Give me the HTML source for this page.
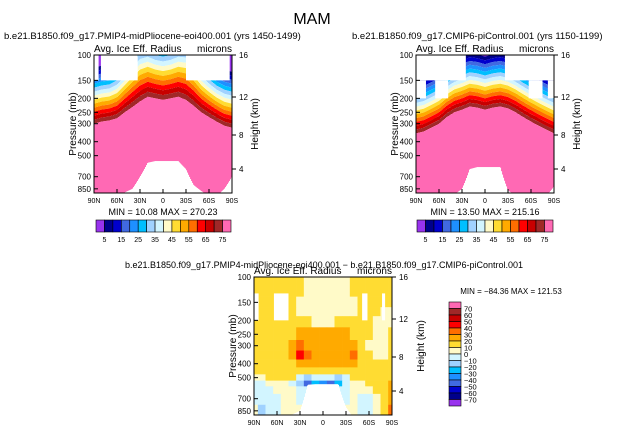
<!DOCTYPE html>
<html><head><meta charset="utf-8"><style>
body{margin:0;background:#fff}
svg text{font-family:"Liberation Sans",sans-serif;fill:#000}
</style></head><body>
<svg id="c" width="624" height="433" viewBox="0 0 624 433">
<text x="312" y="24" font-size="16" text-anchor="middle">MAM</text>
</svg>
<script>
const lats=[90,80,70,60,50,40,30,20,10,0,-10,-20,-30,-40,-50,-60,-70,-80,-90];
const pinkTopA=[300,290,285,275,250,230,210,195,200,205,200,195,205,225,250,270,290,310,320];
const gradA=[4,4,4,4.2,4.5,5,5.3,5,4.8,4.8,4.8,5,5.3,5,4.5,4.2,4,4,4];
const surfA=[950,950,950,950,900,850,700,560,545,545,545,545,620,800,880,950,950,850,700];
const pinkTopB=[350,340,320,300,270,250,240,228,232,240,232,228,235,250,270,290,310,330,350];
const gradB=[3.8,3.8,3.8,3.8,3.8,3.8,3.8,3.8,3.8,3.8,3.8,3.8,3.8,3.8,3.8,3.8,3.8,3.8,3.8];
const surfB=[950,950,950,950,950,930,850,620,600,600,600,600,870,950,950,950,950,950,820];
const diffLevels=[100,125,150,175,200,250,300,350,400,450,500,550,600,700,850];
const diffVals=[
[15,15,15,15,15,15,15,5,5,5,5,5,5,15,15,15,15,15,15],
[15,15,15,15,15,15,15,5,5,5,5,5,5,15,15,15,15,15,15],
[15,15,15,15,15,15,5,5,5,5,5,5,5,5,15,15,15,15,15],
[15,15,15,15,15,15,5,5,5,5,5,5,5,5,15,15,15,5,5],
[15,15,15,15,15,15,15,15,5,5,5,15,15,15,15,15,5,5,5],
[15,15,15,15,15,15,25,25,25,25,25,25,25,15,15,15,5,5,15],
[15,15,15,15,15,25,35,25,25,25,25,25,25,25,15,5,5,5,15],
[15,15,15,15,15,25,45,35,25,25,25,25,25,35,15,15,5,5,15],
[15,15,15,15,15,15,25,25,25,25,25,25,25,25,15,15,15,15,15],
[15,15,15,15,15,15,15,15,15,15,15,15,15,15,15,15,15,15,15],
[5,5,15,15,15,15,-5,-15,-5,-5,-5,-15,-5,15,15,15,15,15,15],
[-5,-5,5,5,5,-5,-15,-45,-25,-35,-45,-25,-5,5,5,15,15,15,25],
[-5,-5,-5,5,5,5,-5,-5,-5,-5,-5,-5,-5,5,5,5,15,15,25],
[-5,-5,-5,-5,5,5,-5,-5,-5,-5,-5,-5,-5,5,-5,-5,5,15,25],
[5,-15,-5,-5,5,5,5,5,5,5,5,5,5,5,-5,-5,5,15,35]];
const surfD=[950,950,950,950,950,900,850,560,555,555,555,555,800,950,950,950,950,950,950];
const pTicks=[100,150,200,250,300,400,500,700,850];
const hTicks=[16,12,8,4];
const latTicks=["90N","60N","30N","0","30S","60S","90S"];
const barLabelsTop=["5","15","25","35","45","55","65","75"];
const barLabelsDiff=["70","60","50","40","30","20","10","0","−10","−20","−30","−40","−50","−60","−70"];
const colors=["#9933ee","#00008b","#0000cd","#4169e1","#1e90ff","#00bfff","#a0d2ff","#d2f5ff","#fffac8","#ffdc32","#ffaa00","#ff6e00","#ff0000","#c80000","#a02828","#ff69b4"];
const NS="http://www.w3.org/2000/svg";
const svg=document.getElementById('c');
const W=138,H=138,S=144;
function el(t,a,p){const e=document.createElementNS(NS,t);for(const k in a)e.setAttribute(k,a[k]);(p||svg).appendChild(e);return e;}
function yOf(top,p){return top+(Math.log10(p)-2)*S;}
function xOf(left,lat){return left+(90-lat)/180*W;}
function interp(arr,lat){const f=(90-lat)/10;const i=Math.min(17,Math.floor(f));const t=f-i;return arr[i]*(1-t)+arr[i+1]*t;}
function txt(x,y,s,size,anchor,name,rot){const t=el('text',{x:x,y:y,'font-size':size,'text-anchor':anchor||'start'});if(rot)t.setAttribute('transform',rot);t.textContent=s;return t;}
function mask(g,left,top,l1,l2,p1,p2){const r=el('rect',{x:xOf(left,l1),y:yOf(top,p1),width:xOf(left,l2)-xOf(left,l1),height:yOf(top,p2)-yOf(top,p1),fill:'#fff'},g);}
function ground(g,left,top,surf){for(let x=0;x<W;x+=1){const lat=90-(x+0.5)/W*180;const p=interp(surf,lat);const y=yOf(top,p);if(y<top+H){const r=el('rect',{x:left+x,y:y,width:1.05,height:top+H-y,fill:'#fff'},g);}}}
function axes(left,top,prefix,hx){
  const f=el('rect',{x:left,y:top,width:W,height:H,fill:'none',stroke:'#000','stroke-width':1});
  
  pTicks.forEach(p=>{const y=yOf(top,p);el('line',{x1:left,x2:left+4,y1:y,y2:y,stroke:'#000'});txt(left-3,y+3,String(p),8,'end',prefix+'-pressure-tick');});
  hTicks.forEach((h,i)=>{const y=top+[0,42,80,114][i];el('line',{x1:left+W,x2:left+W+4,y1:y,y2:y,stroke:'#000'});txt(left+W+7,y+3,String(h),8,'start',prefix+'-height-tick');});
  latTicks.forEach((s,i)=>{const x=left+i*W/6;el('line',{x1:x,x2:x,y1:top+H,y2:top+H-4,stroke:'#000'});txt(x,top+H+10,s,7,'middle',prefix+'-lat-tick');});
  txt(left-18,top+H/2,'Pressure (mb)',10,'middle',prefix+'-y-axis-title','rotate(-90 '+(left-18)+' '+(top+H/2)+')');
  txt(hx,top+H/2,'Height (km)',10,'middle',prefix+'-height-axis-title','rotate(-90 '+hx+' '+(top+H/2)+')');
  txt(left,top-3,'Avg. Ice Eff. Radius',10,'start',prefix+'-variable-label');
  txt(left+W,top-3,'microns',10,'end',prefix+'-units-label');
}
function topPlot(left,top,pinkTop,grad,surf,name,masks){
  const g=el('g',{});
  for(let x=0;x<W;x+=1){const lat=90-(x+0.5)/W*180;const yP=yOf(top,interp(pinkTop,lat));const d=interp(grad,lat);
    for(let j=0;j<16;j++){let y1=j==0?top:yP-(15-j)*d;let y2=j==15?top+H:yP-(14-j)*d;y1=Math.max(top,y1);y2=Math.min(top+H,y2);if(y2>y1){const r=el('rect',{x:left+x,y:y1,width:1.05,height:y2-y1,fill:colors[j]},g);}}}
  masks.forEach(m=>mask(g,left,top,m[0],m[1],m[2],m[3]));
  ground(g,left,top,surf);
}
function hbar(left,y,w,name){const bw=w/16;colors.forEach((c,i)=>{const r=el('rect',{x:left+i*bw,y:y,width:bw,height:12,fill:c,stroke:'#000','stroke-width':0.6});});
  barLabelsTop.forEach((s,i)=>txt(left+(2*i+1)*bw,y+22,s,7,'middle',name+'-label'));}
topPlot(94,55,pinkTopA,gradA,surfA,'pliocene',[[90,84,100,150],[81,33,100,150],[-30,-87,100,150]]);
axes(94,55,'pliocene',258);
txt(4,39,'b.e21.B1850.f09_g17.PMIP4-midPliocene-eoi400.001 (yrs 1450-1499)',9.5,'start','pliocene-title');
txt(163,215,'MIN =   10.08   MAX = 270.23',9,'middle','pliocene-min-max');
hbar(96,220,135,'pliocene-colorbar');
topPlot(416,55,pinkTopB,gradB,surfB,'picontrol',[[90,25,100,150],[-26,-90,100,150],[90,77,150,200],[65,48,150,200],[-57,-75,150,200],[-82,-90,150,200]]);
axes(416,55,'picontrol',580);
txt(352,39,'b.e21.B1850.f09_g17.CMIP6-piControl.001 (yrs 1150-1199)',9.5,'start','picontrol-title');
txt(485,215,'MIN =   13.50   MAX = 215.16',9,'middle','picontrol-min-max');
hbar(417,220,136,'picontrol-colorbar');
(function(){const left=254,top=277;const g=el('g',{});
  const binOf=v=>Math.max(0,Math.min(15,Math.floor((v+80)/10)));
  diffLevels.forEach((p,r)=>{const pa=r==0?100:Math.sqrt(p*diffLevels[r-1]);const pb=r==diffLevels.length-1?1000:Math.sqrt(p*diffLevels[r+1]);
    const y1=Math.max(top,yOf(top,pa)),y2=Math.min(top+H,yOf(top,pb));
    lats.forEach((lat,c)=>{const x1=Math.max(left,xOf(left,lat+5)),x2=Math.min(left+W,xOf(left,lat-5));
      const rc=el('rect',{x:x1,y:y1,width:x2-x1+0.3,height:y2-y1+0.3,fill:colors[binOf(diffVals[r][c])]},g);
      });});
  [[90,84,130,200],[64,45,130,200],[-51,-58,130,200],[-77,-81,130,200]].forEach(m=>mask(g,left,top,m[0],m[1],m[2],m[3]));
  ground(g,left,top,surfD);
  axes(left,top,'difference',424);
  txt(324,268,'b.e21.B1850.f09_g17.PMIP4-midPliocene-eoi400.001  −  b.e21.B1850.f09_g17.CMIP6-piControl.001',9,'middle','difference-title');
  txt(511,294,'MIN = −84.36   MAX = 121.53',8,'middle','difference-min-max');
  const bh=104/16;colors.slice().reverse().forEach((c,i)=>{const r=el('rect',{x:449,y:302+i*bh,width:12,height:bh,fill:c,stroke:'#000','stroke-width':0.6});});
  barLabelsDiff.forEach((s,i)=>txt(464,302+(i+1)*bh+3,s,7.5,'start','difference-colorbar-label'));
})();
</script>
</body></html>
